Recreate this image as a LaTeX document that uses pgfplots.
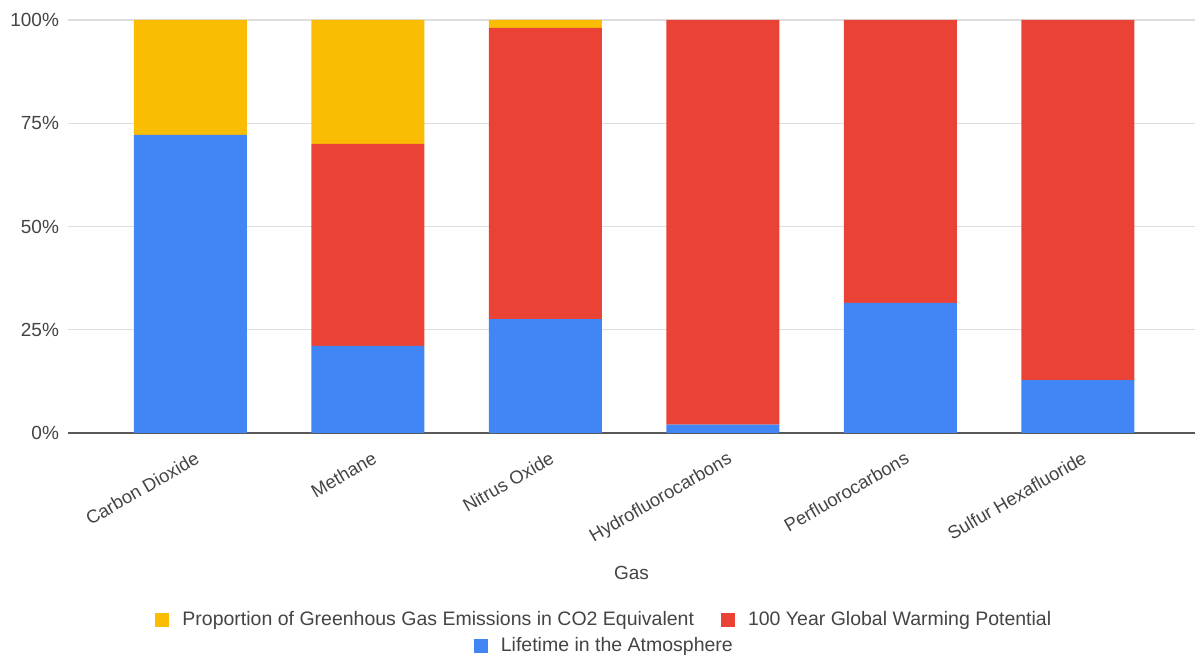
\documentclass[border=0pt]{standalone}
\usepackage{fontspec}
\setmainfont{Liberation Sans}
\usepackage{pgfplots}
\pgfplotsset{compat=1.18}
\definecolor{gblue}{HTML}{4285F4}
\definecolor{gred}{HTML}{EA4335}
\definecolor{gyellow}{HTML}{FBBC04}
\definecolor{txt}{HTML}{444444}
\pgfplotsset{
  lgd/.style={
    legend image code/.code={\fill[##1] (0pt,-3.5pt) rectangle (7pt,3.5pt);},
    legend style={draw=none, fill=none, font=\fontsize{9.75}{11}\selectfont, text=txt,
      nodes={inner xsep=0pt, inner ysep=2pt},
      /tikz/every even column/.append style={column sep=13.5pt},
      /tikz/every odd column/.append style={column sep=6.5pt}},
    legend cell align=left,
  }
}
\begin{document}
\begin{tikzpicture}
\useasboundingbox (-34pt,-112pt) rectangle (566pt,216.5pt);
\begin{axis}[
  at={(0pt,0pt)}, anchor=south west,
  scale only axis, width=563.5pt, height=206.5pt,
  ybar stacked, bar width=56.5pt,
  xmin=-0.69, xmax=5.66, ymin=0, ymax=100,
  xtick={0,1,2,3,4,5},
  xticklabels={Carbon Dioxide,Methane,Nitrus Oxide,Hydrofluorocarbons,Perfluorocarbons,Sulfur Hexafluoride},
  ytick={0,25,50,75,100},
  yticklabels={0\%,25\%,50\%,75\%,100\%},
  major tick length=0pt,
  axis lines*=left,
  y axis line style={draw=none},
  x axis line style={draw=black!65, line width=0.7pt},
  ymajorgrids, grid style={black!13, line width=0.6pt},
  tick label style={font=\fontsize{9.5}{11}\selectfont, text=txt},
  yticklabel style={xshift=-1pt},
  xticklabel style={rotate=30, anchor=north east, xshift=0.5pt, yshift=-5pt, font=\fontsize{9.2}{11}\selectfont},
  xlabel={Gas},
  xlabel style={at={(axis description cs:0.5,0)}, anchor=center, yshift=-70pt, font=\fontsize{9.5}{11}\selectfont, text=txt},
  lgd, reverse legend, legend columns=2,
  legend style={at={(axis description cs:0.475,-0.4528)}, anchor=center},
]
\addplot[fill=gblue, draw=none, forget plot] coordinates {(0,72.2) (1,21.1) (2,27.6) (3,2) (4,31.5) (5,12.8)};
\addplot[fill=gred, draw=none] coordinates {(0,0) (1,48.9) (2,70.5) (3,98) (4,68.5) (5,87.2)};
\addplot[fill=gyellow, draw=none] coordinates {(0,27.8) (1,30) (2,1.9) (3,0) (4,0) (5,0)};
\legend{100 Year Global Warming Potential, Proportion of Greenhous Gas Emissions in CO2 Equivalent}
\end{axis}
\begin{axis}[
  at={(0pt,0pt)}, anchor=south west,
  scale only axis, width=563.5pt, height=206.5pt,
  xmin=0, xmax=1, ymin=0, ymax=1, hide axis,
  lgd,
  legend style={at={(axis description cs:0.475,-0.5157)}, anchor=center},
]
\addlegendimage{fill=gblue, draw=none}
\addlegendentry{Lifetime in the Atmosphere}
\end{axis}
\end{tikzpicture}
\end{document}
